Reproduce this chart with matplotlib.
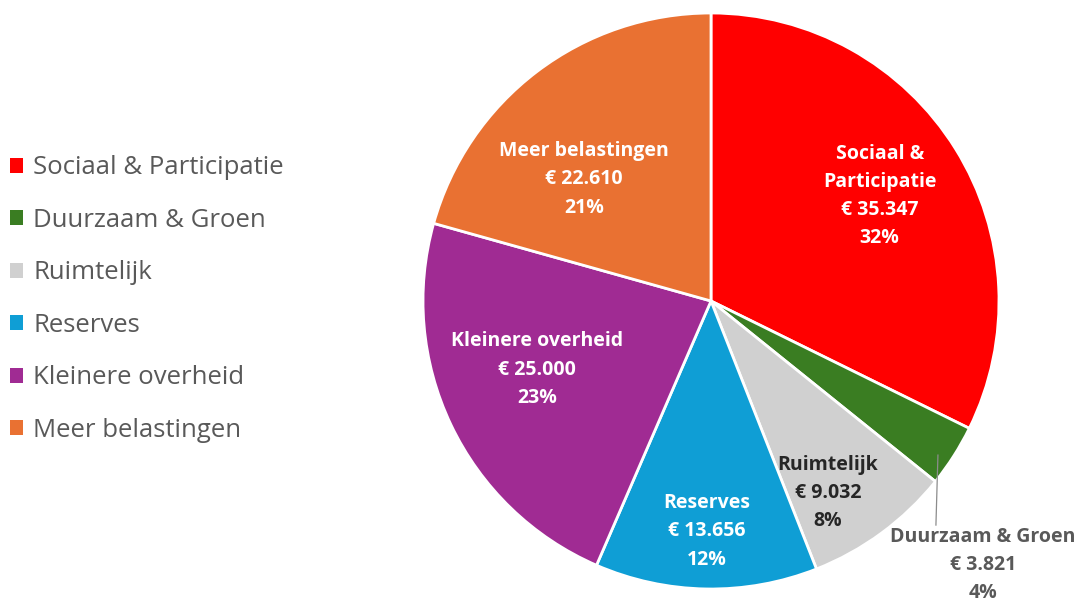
import matplotlib.pyplot as plt
import numpy as np
from matplotlib.patches import Patch

# data
categories = ['Sociaal & Participatie', 'Duurzaam & Groen', 'Ruimtelijk',
              'Reserves', 'Kleinere overheid', 'Meer belastingen']
label_names = ['Sociaal &\nParticipatie', 'Duurzaam & Groen', 'Ruimtelijk',
               'Reserves', 'Kleinere overheid', 'Meer belastingen']
amounts = [35347, 3821, 9032, 13656, 25000, 22610]
pct_labels = [32, 4, 8, 12, 23, 21]
colors = ['#FF0000', '#3A7D22', '#D0D0D0', '#0F9ED5', '#A02B93', '#E97132']

plt.rcParams['font.family'] = ['Open Sans', 'DejaVu Sans']

fig = plt.figure(figsize=(10.9, 6.08), dpi=100)
W, H = 1090, 608
cx, cy, R = 711, 301, 288
ax = fig.add_axes([(cx - R) / W, (H - cy - R) / H, 2 * R / W, 2 * R / H])

wedges, _ = ax.pie(amounts, colors=colors, startangle=90, counterclock=False,
                   radius=1, wedgeprops=dict(edgecolor='white', linewidth=2))
ax.set_xlim(-1, 1)
ax.set_ylim(-1, 1)
ax.axis('off')

def fmt_eur(v):
    return '€ ' + f'{v:,}'.replace(',', '.')

# label placement per slice: (radius fraction, angle tweak in degrees)
placement = [(0.69, 0), None, (0.78, -5), (0.80, 0), (0.65, -4), (0.61, 9)]
text_colors = ['white', None, '#262626', 'white', 'white', 'white']
fs = 14

for i, w in enumerate(wedges):
    mid = np.deg2rad((w.theta1 + w.theta2) / 2)
    txt = f'{label_names[i]}\n{fmt_eur(amounts[i])}\n{pct_labels[i]}%'
    if placement[i] is None:
        # outside label with leader line
        ax.plot([0.788, 0.781], [-0.535, -0.778], color='#8c8c8c', lw=0.9)
        ax.text(0.944, -0.917, txt, ha='center', va='center', fontsize=fs,
                fontweight='bold', color='#595959', linespacing=1.55,
                clip_on=False)
        continue
    r, tweak = placement[i]
    ang = mid + np.deg2rad(tweak)
    ax.text(r * np.cos(ang), r * np.sin(ang), txt, ha='center', va='center',
            fontsize=fs, fontweight='bold', color=text_colors[i],
            linespacing=1.55)

handles = [Patch(facecolor=c, edgecolor='none') for c in colors]
fig.legend(handles, categories, loc='center left', bbox_to_anchor=(0.0, 0.508),
           frameon=False, fontsize=18.5, labelcolor='#595959', borderaxespad=0.0,
           handlelength=0.5, handleheight=0.5, handletextpad=0.4,
           labelspacing=1.07)

fig.savefig('out.png', dpi=100)
